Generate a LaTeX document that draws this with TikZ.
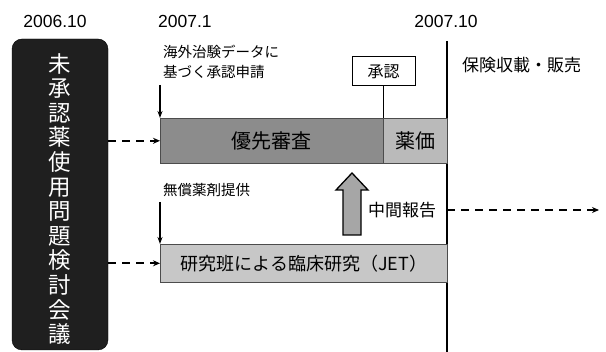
\documentclass[tikz,border=0pt]{standalone}
\usepackage{fontspec}
\setmainfont{Liberation Sans}
\newfontfamily\jp{Noto Sans CJK JP}
\usetikzlibrary{arrows.meta}
\begin{document}
\begin{tikzpicture}[x=1pt,y=-1pt,
 lbl/.style={font=\jp\fontsize{14.5}{18}\selectfont, anchor=west, inner sep=0},
 yr/.style={font=\fontsize{17.5}{20}\selectfont, inner sep=0},
 bar/.style={draw=black!70, line width=0.6pt, inner sep=0, anchor=north west},
 dasharr/.style={dash pattern=on 8pt off 6pt, line width=1.6pt, -{Stealth[length=7pt,width=6pt]}},
 downarr/.style={line width=1.2pt, -{Stealth[length=7pt,width=5pt]}},
]
\useasboundingbox (0,0) rectangle (606,352);
% years
\node[yr] (y1) at (55,21) {2006.10};
\node[yr, anchor=west] (y2) at (158,21) {2007.1};
\node[yr] (y3) at (446,21) {2007.10};
\coordinate (vtop) at (447,41);
\coordinate (vbot) at (447,352);
\draw[line width=1.3pt] (vtop) -- (vbot);
% meeting
\node[draw=black, fill=black!88, rounded corners=10pt, minimum width=96pt, minimum height=311pt, inner sep=0] (meet) at (60,194.5) {};
\node[font=\jp\fontsize{22.5}{24.6}\selectfont, text=white, align=center, inner sep=0] (meettxt) at (60,199) {未\\承\\認\\薬\\使\\用\\問\\題\\検\\討\\会\\議};
% bars
\node[bar, fill=black!45, minimum width=223pt, minimum height=45pt, font=\jp\fontsize{20}{24}\selectfont] (rev) at (160,118) {優先審査};
\node[bar, fill=black!27, minimum width=64pt, minimum height=45pt, font=\jp\fontsize{20}{24}\selectfont] (price) at (383,118) {薬価};
\node[bar, fill=black!22, minimum width=287pt, minimum height=38pt, font=\jp\fontsize{18}{22}\selectfont] (jet) at (160,244) {研究班による臨床研究（JET）};
% approval
\node[draw, line width=1pt, minimum width=63pt, minimum height=29pt, fill=white, font=\jp\fontsize{16}{18}\selectfont] (appr) at (383.5,71.5) {承認};
\draw[line width=1pt] (appr.south) -- (appr.south |- rev.north);
% labels and arrows
\node[lbl] (l1) at (163,52) {海外治験データに};
\node[lbl] (l2) at (163,72) {基づく承認申請};
\coordinate (a1) at (160,85);
\draw[downarr] (a1) -- (a1 |- rev.north);
\node[lbl] (l3) at (163,190) {無償薬剤提供};
\coordinate (a2) at (160,202);
\draw[downarr] (a2) -- (a2 |- jet.north);
\draw[dasharr] (meet.east |- rev.west) -- (rev.west);
\draw[dasharr] (meet.east |- jet.west) -- (jet.west);
% big arrow
\draw[line width=1.3pt, fill=black!35] (343,235) -- (343,190) -- (336,190) -- (352,173) -- (368,190) -- (361,190) -- (361,235) -- cycle;
\node[font=\jp\fontsize{17}{20}\selectfont, anchor=west, inner sep=0] (mid) at (368,210) {中間報告};
\coordinate (vmid) at (vtop |- mid);
\coordinate (endr) at (599,210);
\draw[dasharr] (vmid) -- (endr);
\node[font=\jp\fontsize{17}{20}\selectfont, anchor=west, inner sep=0] (ins) at (462,65) {保険収載・販売};
\end{tikzpicture}
\end{document}
